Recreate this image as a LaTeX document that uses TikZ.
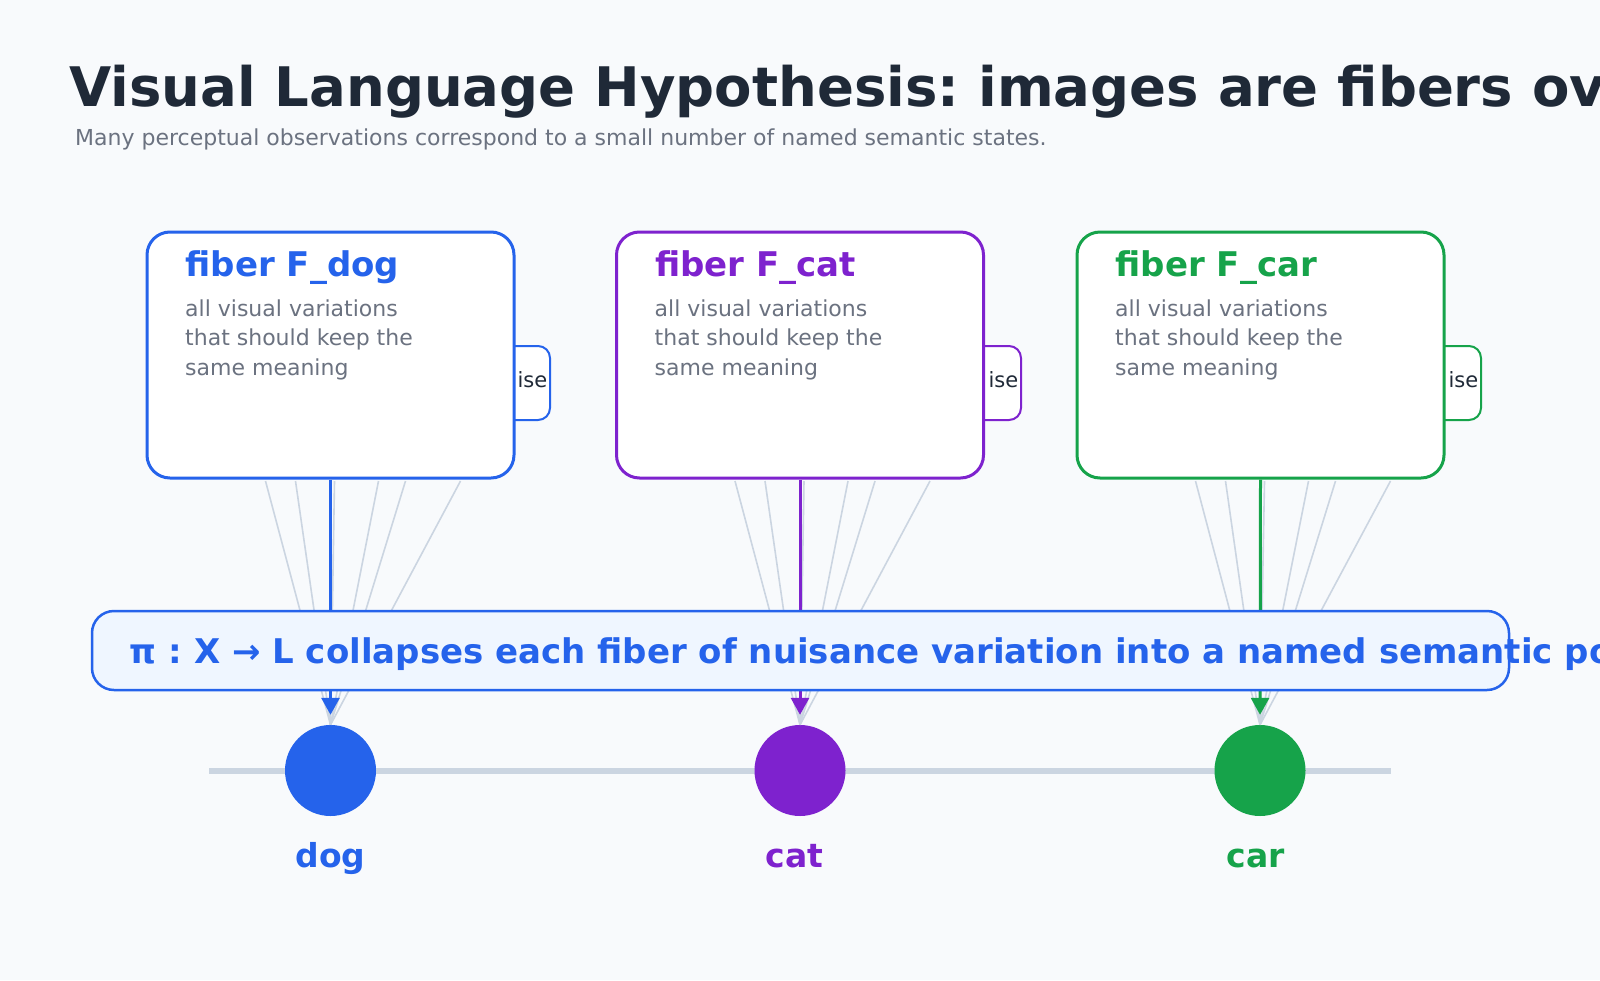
\documentclass[tikz,border=0pt]{standalone}
\usepackage{fontspec}
\setmainfont{DejaVu Sans}
\usepackage{tikz}
\usetikzlibrary{arrows.meta,calc,positioning}
\definecolor{paper}{HTML}{F8FAFC}
\definecolor{ink}{HTML}{1F2937}
\definecolor{muted}{HTML}{6B7280}
\definecolor{fanline}{HTML}{CBD5E1}
\definecolor{bannerfill}{HTML}{EFF6FF}
\definecolor{dogblue}{HTML}{2563EB}
\definecolor{catpurple}{HTML}{7E22CE}
\definecolor{cargreen}{HTML}{16A34A}
\frenchspacing

\begin{document}
\begin{tikzpicture}[x=1pt, y=-1pt,
  fiberbox/.style={draw=#1, line width=3pt, fill=white, rounded corners=23pt,
    minimum width=367pt, minimum height=246pt, inner sep=0pt},
  noisetab/.style={draw=#1, line width=2pt, fill=white, rounded corners=12pt,
    minimum width=60pt, minimum height=74pt, inner sep=0pt},
  fibertitle/.style={text=#1, font=\fontsize{34}{40}\selectfont\bfseries,
    anchor=base west, inner sep=0pt},
  fibertext/.style={text=muted, font=\fontsize{22}{29.7}\selectfont, align=left,
    anchor=base west, inner sep=0pt},
  tabtext/.style={text=ink, font=\fontsize{21}{25}\selectfont, anchor=base east, inner sep=0pt},
  fan/.style={draw=fanline, line width=1.6pt},
  collapsearrow/.style={draw=#1, line width=3pt, -{Triangle[length=17pt,width=18pt]}, shorten >=10pt},
  semstate/.style={circle, fill=#1, minimum size=91pt, inner sep=0pt},
  statelabel/.style={text=#1, font=\fontsize{33}{40}\selectfont\bfseries, anchor=base, inner sep=0pt},
  banner/.style={draw=dogblue, line width=2.5pt, fill=bannerfill, rounded corners=22pt,
    minimum width=1417pt, minimum height=79pt, inner sep=0pt}]
  \useasboundingbox (0,0) rectangle (1600,980);
  \fill[paper] (0,0) rectangle (1600,980);
  \node[text=ink, font=\fontsize{54.5}{62}\selectfont\bfseries, anchor=base west, inner sep=0pt]
    (title) at (69,106) {Visual Language Hypothesis: images are fibers ov};
  \node[text=muted, font=\fontsize{22}{26}\selectfont, anchor=base west, inner sep=0pt]
    (subtitle) at (75,145) {Many perceptual observations correspond to a small number of named semantic states.};
  \draw[fanline, line width=5.5pt] (209,771) -- (1391,771);
  \node[semstate=dogblue] (pdog) at (330.5,770.5) {};
  \node[semstate=catpurple] (pcat) at (800,770.5) {};
  \node[semstate=cargreen] (pcar) at (1260,770.5) {};
  \node[noisetab=dogblue] (tdog) at (520,383) {};
  \node[noisetab=catpurple] (tcat) at (991,383) {};
  \node[noisetab=cargreen] (tcar) at (1451,383) {};
  \node[fiberbox=dogblue] (fdog) at (330.5,355) {};
  \node[fiberbox=catpurple] (fcat) at (800,355) {};
  \node[fiberbox=cargreen] (fcar) at (1260.5,355) {};
  \node[fibertitle=dogblue] (hdog) at ($(fdog.north west)+(40,46)$) {fiber F\_dog};
  \node[fibertitle=catpurple] (hcat) at ($(fcat.north west)+(40,46)$) {fiber F\_cat};
  \node[fibertitle=cargreen] (hcar) at ($(fcar.north west)+(40,46)$) {fiber F\_car};
  \node[fibertext] (ddog) at ($(fdog.north west)+(39.5,145)$) {all visual variations\\that should keep the\\same meaning};
  \node[fibertext] (dcat) at ($(fcat.north west)+(39.5,145)$) {all visual variations\\that should keep the\\same meaning};
  \node[fibertext] (dcar) at ($(fcar.north west)+(39.5,145)$) {all visual variations\\that should keep the\\same meaning};
  \node[tabtext] (ndog) at ($(tdog.east)+(-3.5,4)$) {ise};
  \node[tabtext] (ncat) at ($(tcat.east)+(-3.5,4)$) {ise};
  \node[tabtext] (ncar) at ($(tcar.east)+(-3.5,4)$) {ise};
  \foreach \dx in {-65,-35,4,48,75,130} {
    \draw[fan] ($(fdog.south)+(\dx,1.5)$) -- (pdog.north);
    \draw[fan] ($(fcat.south)+(\dx,1.5)$) -- (pcat.north);
    \draw[fan] ($(fcar.south)+(\dx,1.5)$) -- (pcar.north);
  }
  \draw[collapsearrow=dogblue] (fdog.south) -- (pdog.north);
  \draw[collapsearrow=catpurple] (fcat.south) -- (pcat.north);
  \draw[collapsearrow=cargreen] (fcar.south) -- (pcar.north);
  \node[banner] (pimap) at (800.5,650.5) {};
  \node[text=dogblue, font=\fontsize{34}{40}\selectfont\bfseries, anchor=base west, inner sep=0pt]
    (pitext) at ($(pimap.west)+(39,12.5)$) {π : X → L collapses each fiber of nuisance variation into a named semantic po};
  \node[statelabel=dogblue] (ldog) at ($(pdog.south)+(0,51)$) {dog};
  \node[statelabel=catpurple] (lcat) at ($(pcat.south)+(-5.5,51)$) {cat};
  \node[statelabel=cargreen] (lcar) at ($(pcar.south)+(-4.5,51)$) {car};
\end{tikzpicture}
\end{document}
